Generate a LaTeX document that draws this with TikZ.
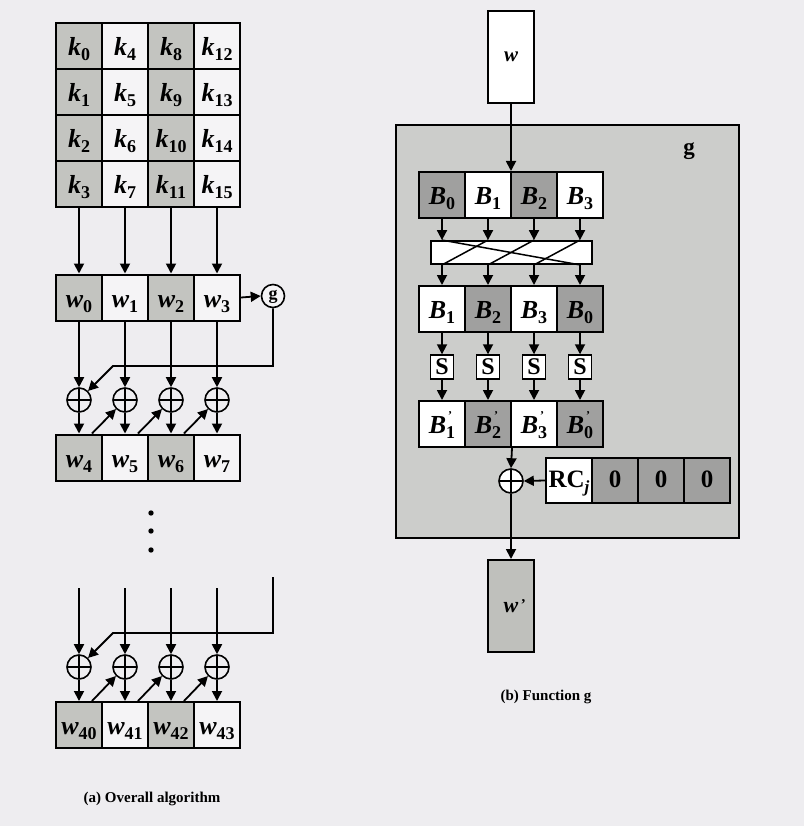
\documentclass[tikz,border=0pt]{standalone}
\usepackage{fontspec}
\setmainfont{Liberation Serif}
\usetikzlibrary{arrows.meta,calc}
\definecolor{bgc}{HTML}{EEEDF0}
\definecolor{lightcell}{HTML}{C3C4C0}
\definecolor{darkcell}{HTML}{A0A09F}
\definecolor{gboxc}{HTML}{CCCDCB}
\definecolor{wpc}{HTML}{BFC0BC}
\newcommand\vsub[2]{{\bfseries\itshape #1}\raisebox{-0.45ex}{\fontsize{18}{18}\selectfont\bfseries #2}}
\newcommand\vpr[2]{{\bfseries\itshape #1}\rlap{\raisebox{1.2ex}{\fontsize{12}{12}\selectfont\bfseries\,\char"27}}\raisebox{-0.45ex}{\fontsize{18}{18}\selectfont\bfseries #2}}
\tikzset{
  cell/.style={draw, line width=2pt, minimum width=46pt, minimum height=46pt, inner sep=0pt, text height=19pt, text depth=0pt, font=\fontsize{26}{26}\selectfont},
  lg/.style={fill=lightcell}, dg/.style={fill=darkcell}, wh/.style={fill=white}, lw/.style={fill=bgc!60!white},
  xor/.style={circle, draw, line width=1.6pt, minimum size=24pt, inner sep=0pt,
    path picture={\draw[line width=1.6pt] (path picture bounding box.north) -- (path picture bounding box.south) (path picture bounding box.west) -- (path picture bounding box.east);}},
  arr/.style={-{Triangle[length=10pt,width=10pt]}, line width=1.8pt},
  sbox/.style={draw, line width=1.4pt, fill=white, minimum width=23pt, minimum height=24pt, inner sep=0pt, font=\fontsize{24}{24}\selectfont\bfseries},
  rcell/.style={minimum height=45pt, text height=14pt, font=\fontsize{25}{25}\selectfont\bfseries},
  caption/.style={font=\fontsize{15}{15}\selectfont\bfseries}
}
\begin{document}
\begin{tikzpicture}[x=1pt,y=-1pt]
\useasboundingbox (0,0) rectangle (804,826);
\fill[bgc] (0,0) rectangle (804,826);
% ---------- (a) key grid ----------
\foreach \c in {0,1,2,3}{
  \foreach \r in {0,1,2,3}{
    \pgfmathtruncatemacro\idx{4*\c+\r}
    \pgfmathtruncatemacro\parity{mod(\c,2)}
    \ifnum\parity=0
      \node[cell,lg] (k\idx) at (79+46*\c, 46+46*\r) {\vsub{k}{\idx}};
    \else
      \node[cell,lw] (k\idx) at (79+46*\c, 46+46*\r) {\vsub{k}{\idx}};
    \fi
  }
}
% w0..w3
\node[cell,lg] (w0) at (79,297.5) {\vsub{w}{0}};
\node[cell,lw] (w1) at (125,297.5) {\vsub{w}{1}};
\node[cell,lg] (w2) at (171,297.5) {\vsub{w}{2}};
\node[cell,lw] (w3) at (217,297.5) {\vsub{w}{3}};
\draw[arr] (k3.south) -- (w0.north);
\draw[arr] (k7.south) -- (w1.north);
\draw[arr] (k11.south) -- (w2.north);
\draw[arr] (k15.south) -- (w3.north);
% g circle
\node[circle, draw, line width=1.6pt, fill=bgc!60!white, minimum size=23pt, inner sep=0pt, text height=9pt, text depth=3pt, font=\fontsize{18}{18}\selectfont\bfseries] (gc) at (273,296) {g};
\draw[arr] (w3.east) -- (gc.west);
% xor row 1
\foreach \i/\x in {0/79,1/125,2/171,3/217}{
  \node[xor] (xa\i) at (\x,400) {};
  \draw[arr] (w\i.south) -- (xa\i.north);
}
\node[cell,lg] (w4) at (79,457.5) {\vsub{w}{4}};
\node[cell,lw] (w5) at (125,457.5) {\vsub{w}{5}};
\node[cell,lg] (w6) at (171,457.5) {\vsub{w}{6}};
\node[cell,lw] (w7) at (217,457.5) {\vsub{w}{7}};
\draw[arr] (xa0.south) -- (w4.north);
\draw[arr] (xa1.south) -- (w5.north);
\draw[arr] (xa2.south) -- (w6.north);
\draw[arr] (xa3.south) -- (w7.north);
\coordinate (fa) at (113,366);
\draw[arr] (gc.south) |- (fa) -- (xa0.north east);
\draw[arr] ($(w4.north)+(13,0)$) -- (xa1.south west);
\draw[arr] ($(w5.north)+(13,0)$) -- (xa2.south west);
\draw[arr] ($(w6.north)+(13,0)$) -- (xa3.south west);
% dots
\foreach \y in {513,531,550}{ \fill (151,\y) circle (2.7pt); }
% bottom section
\foreach \i/\x in {0/79,1/125,2/171,3/217}{
  \coordinate (t\i) at (\x,588);
  \node[xor] (xb\i) at (\x,667) {};
  \draw[arr] (t\i) -- (xb\i.north);
}
\node[cell,lg] (w40) at (79,725) {\vsub{w}{40}};
\node[cell,lw] (w41) at (125,725) {\vsub{w}{41}};
\node[cell,lg] (w42) at (171,725) {\vsub{w}{42}};
\node[cell,lw] (w43) at (217,725) {\vsub{w}{43}};
\draw[arr] (xb0.south) -- (w40.north);
\draw[arr] (xb1.south) -- (w41.north);
\draw[arr] (xb2.south) -- (w42.north);
\draw[arr] (xb3.south) -- (w43.north);
\coordinate (gt) at (273,577);
\coordinate (fb) at (113,633);
\draw[arr] (gt) |- (fb) -- (xb0.north east);
\draw[arr] ($(w40.north)+(13,0)$) -- (xb1.south west);
\draw[arr] ($(w41.north)+(13,0)$) -- (xb2.south west);
\draw[arr] ($(w42.north)+(13,0)$) -- (xb3.south west);
\node[caption] (capa) at (152,799) {(a) Overall algorithm};
% ---------- (b) function g ----------
\node[draw, line width=2.2pt, fill=gboxc, minimum width=343pt, minimum height=413pt, inner sep=0pt] (gbox) at (567.5,331.5) {};
\node[font=\fontsize{23}{23}\selectfont\bfseries] (glab) at (689,151) {g};
\node[draw, line width=2pt, fill=white, minimum width=46pt, minimum height=92pt, inner sep=0pt, font=\fontsize{21}{21}\selectfont\bfseries\itshape] (win) at (511,57) {w};
\node[cell,dg] (b0) at (442,195) {\vsub{B}{0}};
\node[cell,wh] (b1) at (488,195) {\vsub{B}{1}};
\node[cell,dg] (b2) at (534,195) {\vsub{B}{2}};
\node[cell,wh] (b3) at (580,195) {\vsub{B}{3}};
\draw[arr] (win.south) -- (win.south |- b1.north);
\node[draw, line width=1.8pt, fill=white, minimum width=161pt, minimum height=23pt, inner sep=0pt] (perm) at (511.5,252.5) {};
\foreach \i in {0,1,2,3}{ \draw[arr] (b\i.south) -- (b\i.south |- perm.north); }
\draw[line width=1.5pt] (b0.south |- perm.north) -- (b3.south |- perm.south);
\draw[line width=1.5pt] (b1.south |- perm.north) -- (b0.south |- perm.south);
\draw[line width=1.5pt] (b2.south |- perm.north) -- (b1.south |- perm.south);
\draw[line width=1.5pt] (b3.south |- perm.north) -- (b2.south |- perm.south);
\node[cell,wh] (c1) at (442,309) {\vsub{B}{1}};
\node[cell,dg] (c2) at (488,309) {\vsub{B}{2}};
\node[cell,wh] (c3) at (534,309) {\vsub{B}{3}};
\node[cell,dg] (c0) at (580,309) {\vsub{B}{0}};
\draw[arr] (c1.north |- perm.south) -- (c1.north);
\draw[arr] (c2.north |- perm.south) -- (c2.north);
\draw[arr] (c3.north |- perm.south) -- (c3.north);
\draw[arr] (c0.north |- perm.south) -- (c0.north);
\foreach \n/\x in {1/442,2/488,3/534,0/580}{
  \node[sbox] (s\n) at (\x,367) {S};
  \draw[arr] (c\n.south) -- (s\n.north);
}
\node[cell,wh] (d1) at (442,424) {\vpr{B}{1}};
\node[cell,dg] (d2) at (488,424) {\vpr{B}{2}};
\node[cell,wh] (d3) at (534,424) {\vpr{B}{3}};
\node[cell,dg] (d0) at (580,424) {\vpr{B}{0}};
\foreach \n in {1,2,3,0}{ \draw[arr] (s\n.south) -- (d\n.north); }
\node[xor, fill=white] (xg) at (511,481) {};
\draw[arr] (d2.south east) -- (xg.north);
\node[cell,wh,rcell] (rc) at (569,480.5) {RC\raisebox{-0.45ex}{\fontsize{17}{17}\selectfont\itshape j}};
\node[cell,dg,rcell] (z1) at (615,480.5) {0};
\node[cell,dg,rcell] (z2) at (661,480.5) {0};
\node[cell,dg,rcell] (z3) at (707,480.5) {0};
\draw[arr] (rc.west) -- (xg.east);
\node[draw, line width=2pt, fill=wpc, minimum width=46pt, minimum height=92pt, inner sep=0pt, font=\fontsize{22}{22}\selectfont\bfseries\itshape] (wout) at (511,606) {w\rlap{\raisebox{0.3ex}{\upshape\fontsize{15}{15}\selectfont\,\char"27}}};
\draw[arr] (xg.south) -- (wout.north);
\node[caption] (capb) at (546,697) {(b) Function g};
\end{tikzpicture}
\end{document}
